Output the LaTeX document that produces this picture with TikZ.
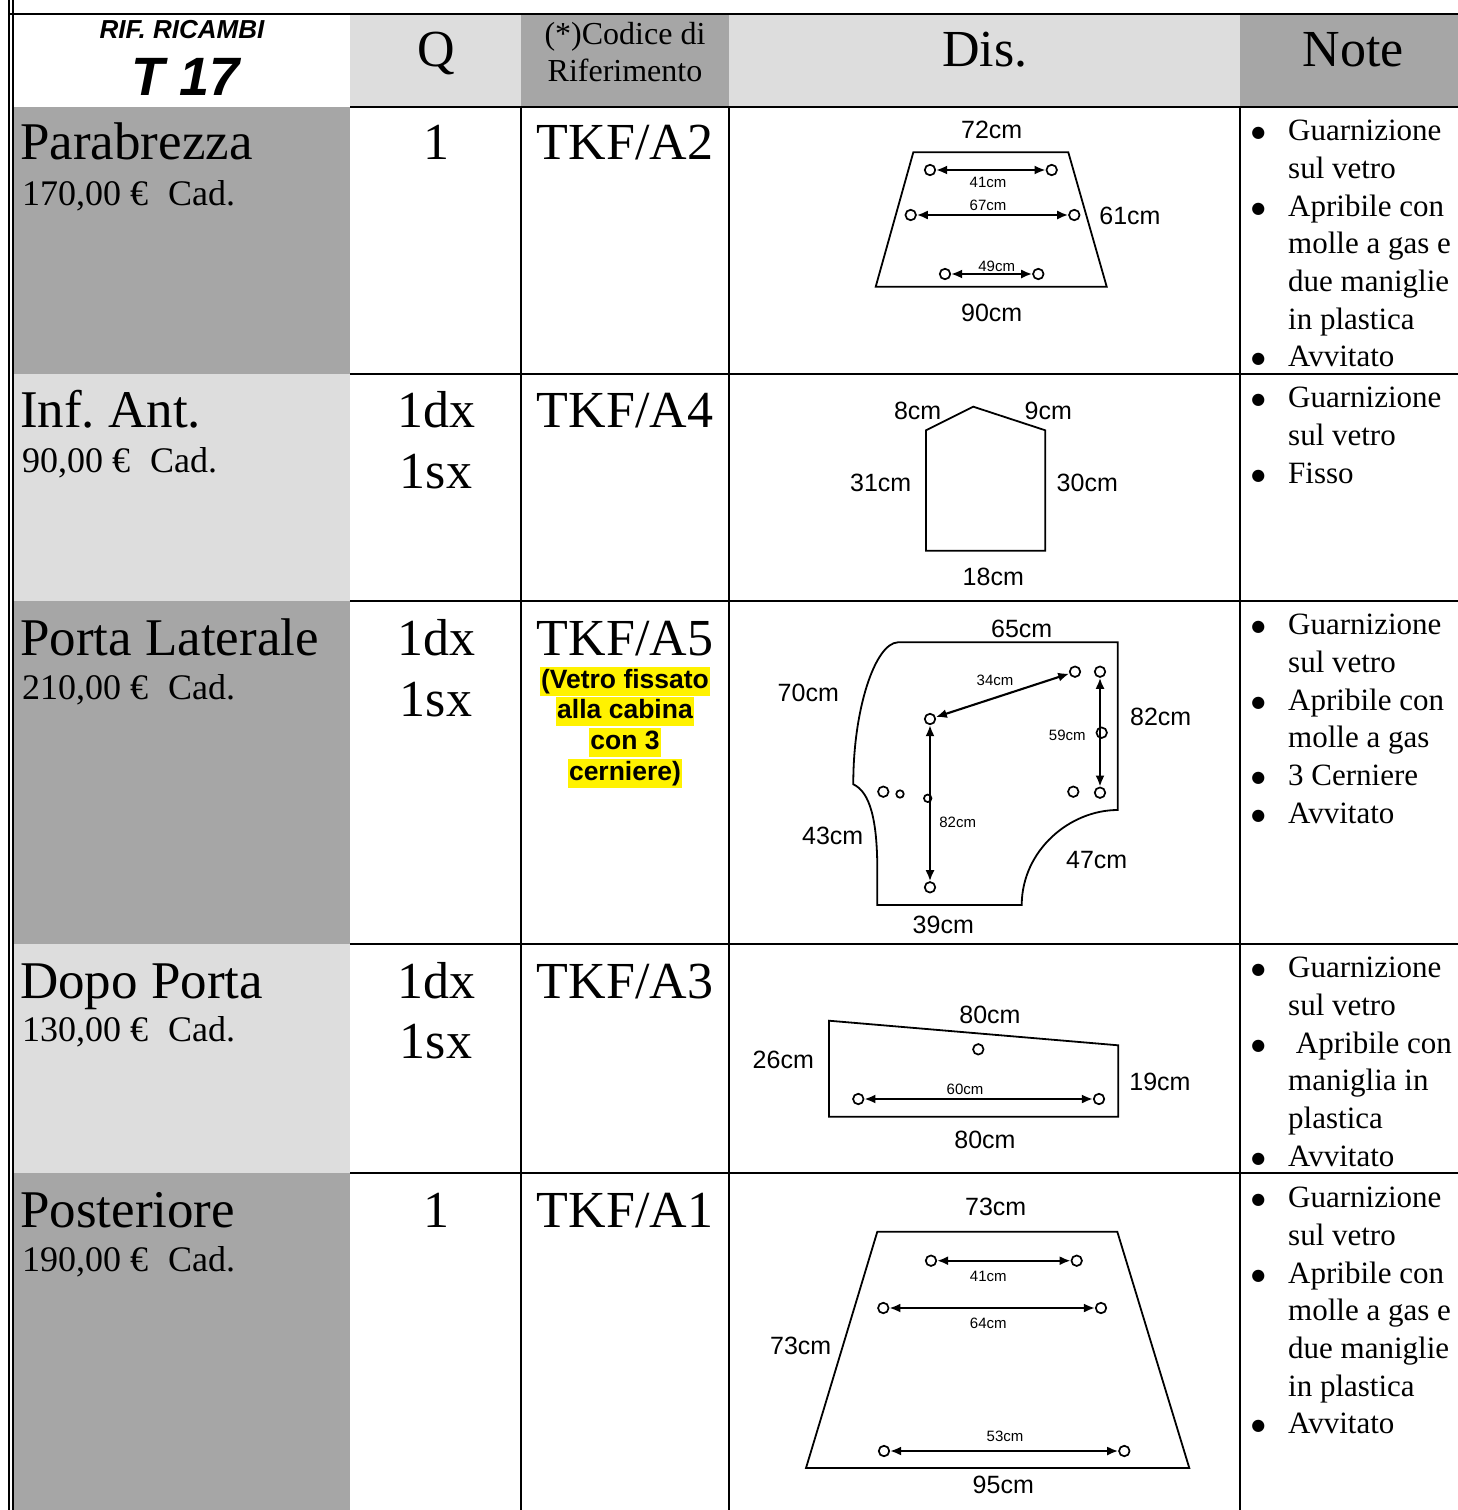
\documentclass[tikz,border=0pt]{standalone}
\usepackage{fontspec}
\setmainfont{Liberation Serif}
\setsansfont{Liberation Sans}
\newfontfamily\dingfont{DejaVu Sans}
\usetikzlibrary{arrows.meta}

\definecolor{darkcell}{RGB}{166,166,166}
\definecolor{lightcell}{RGB}{221,221,221}

\tikzstyle{tableline} = [line width=2.4pt]
\tikzstyle{glass} = [line width=1.8pt, line join=miter]
\tikzstyle{hole} = [circle, draw, line width=1.7pt, minimum size=10.5pt, inner sep=0pt]
\tikzstyle{smallhole} = [hole, minimum size=7.5pt]
\tikzstyle{dimarrow} = [line width=2.1pt, {Latex[length=11pt,width=9pt]}-{Latex[length=11pt,width=9pt]}]
\tikzstyle{dim} = [font=\sffamily\fontsize{25}{25}\selectfont, inner sep=0pt]
\tikzstyle{smalldim} = [font=\sffamily\fontsize{15}{15}\selectfont, inner sep=0pt]
\tikzstyle{part} = [font=\fontsize{53}{53}\selectfont, anchor=base west, inner sep=0pt]
\tikzstyle{price} = [font=\fontsize{36}{36}\selectfont, anchor=base west, inner sep=0pt]
\tikzstyle{big} = [font=\fontsize{52}{52}\selectfont, anchor=base, inner sep=0pt]
\tikzstyle{head} = [font=\fontsize{32}{32}\selectfont, anchor=base, inner sep=0pt]
\tikzstyle{note} = [font=\fontsize{31}{37.7}\selectfont, align=left, anchor=north west, inner sep=0pt]
\tikzstyle{hilite} = [fill=yellow, font=\sffamily\bfseries\fontsize{26.5}{26.5}\selectfont, inner xsep=1pt, inner ysep=1pt, text height=21pt, text depth=6pt]

\newcommand{\bul}{\makebox[0pt][r]{\smash{\raisebox{3pt}{\dingfont\fontsize{16}{16}\selectfont ●}}\hspace{23pt}}}
\newcommand{\cad}{\hspace{20pt}Cad.}

\begin{document}
\begin{tikzpicture}[x=1pt,y=-1pt]
\useasboundingbox (0,0) rectangle (1458,1510);

% cell shading
\fill[lightcell] (350,14) rectangle (521,107);
\fill[darkcell] (521,14) rectangle (729,107);
\fill[lightcell] (729,14) rectangle (1240,107);
\fill[darkcell] (1240,14) rectangle (1458,107);
\fill[darkcell] (14,107) rectangle (350,374);
\fill[lightcell] (14,374) rectangle (350,601);
\fill[darkcell] (14,601) rectangle (350,944);
\fill[lightcell] (14,944) rectangle (350,1173);
\fill[darkcell] (14,1173) rectangle (350,1510);

% rules
\draw[tableline] (9,0) -- (9,1510);
\draw[tableline] (13,0) -- (13,1510);
\draw[tableline] (8,14) -- (1458,14);
\foreach \y in {107,374,601,944,1173}
  \draw[tableline] (350,\y) -- (1458,\y);
\foreach \x in {521,729,1240}
  \draw[tableline] (\x,107) -- (\x,1510);

% header
\node (rif) [font=\sffamily\bfseries\itshape\fontsize{26}{26}\selectfont, inner sep=0pt] at (182,30) {RIF. RICAMBI};
\node (model) [font=\sffamily\bfseries\itshape\fontsize{54}{54}\selectfont, inner sep=0pt] at (186,77) {T 17};
\node (qhead) [big] at (436,66) {Q};
\node (codhead) [head] at (625,44) {(*)Codice di};
\node (codhead2) [head] at (625,81) {Riferimento};
\node (dishead) [big] at (985,66) {Dis.};
\node (notehead) [big] at (1353,66) {Note};

% parts
\node (parab) [part] at (20,159) {Parabrezza};
\node (parabprice) [price] at (22,205) {170,00 €\cad};
\node (infant) [part] at (20,427) {Inf.\ Ant.};
\node (infantprice) [price] at (22,472) {90,00 €\cad};
\node (porta) [part] at (20,655) {Porta Laterale};
\node (portaprice) [price] at (22,699) {210,00 €\cad};
\node (dopo) [part] at (20,998) {Dopo Porta};
\node (dopoprice) [price] at (22,1041) {130,00 €\cad};
\node (post) [part] at (20,1227) {Posteriore};
\node (postprice) [price] at (22,1271) {190,00 €\cad};

% quantities
\node (q1) [big] at (436,159) {1};
\node (q2a) [big] at (436,427) {1dx};
\node (q2b) [big] at (436,488) {1sx};
\node (q3a) [big] at (436,655) {1dx};
\node (q3b) [big] at (436,716) {1sx};
\node (q4a) [big] at (436,998) {1dx};
\node (q4b) [big] at (436,1058) {1sx};
\node (q5) [big] at (436,1227) {1};

% codes
\node (cod1) [big] at (625,159) {TKF/A2};
\node (cod2) [big] at (625,427) {TKF/A4};
\node (cod3) [big] at (625,655) {TKF/A5};
\node (cod4) [big] at (625,998) {TKF/A3};
\node (cod5) [big] at (625,1227) {TKF/A1};
\node (hl1) [hilite] at (625,681) {(Vetro fissato};
\node (hl2) [hilite] at (625,711) {alla cabina};
\node (hl3) [hilite] at (625,742) {con 3};
\node (hl4) [hilite] at (625,773) {cerniere)};

% notes
\node (note1) [note] at (1288,120) {\bul Guarnizione\\sul vetro\\\bul Apribile con\\molle a gas e\\due maniglie\\in plastica\\\bul Avvitato};
\node (note2) [note] at (1288,387) {\bul Guarnizione\\sul vetro\\\bul Fisso};
\node (note3) [note] at (1288,614) {\bul Guarnizione\\sul vetro\\\bul Apribile con\\molle a gas\\\bul 3 Cerniere\\\bul Avvitato};
\node (note4) [note] at (1288,957) {\bul Guarnizione\\sul vetro\\\bul ~Apribile con\\maniglia in\\plastica\\\bul Avvitato};
\node (note5) [note] at (1288,1187) {\bul Guarnizione\\sul vetro\\\bul Apribile con\\molle a gas e\\due maniglie\\in plastica\\\bul Avvitato};

% parabrezza
\draw[glass] (913.3,152.3) -- (1068.3,152.3) -- (1106.7,286.7) -- (875.7,286.7) -- cycle;
\node (a1) [hole] at (930,170) {};
\node (a2) [hole] at (1051.7,170) {};
\node (b1) [hole] at (910.7,215) {};
\node (b2) [hole] at (1074.3,215) {};
\node (c1) [hole] at (945,274) {};
\node (c2) [hole] at (1038.3,274) {};
\draw[dimarrow] (a1) -- (a2);
\draw[dimarrow] (b1) -- (b2);
\draw[dimarrow] (c1) -- (c2);
\node (la1) [smalldim] at (988,182) {41cm};
\node (lb1) [smalldim] at (988,205) {67cm};
\node (lc1) [smalldim] at (996.7,266) {49cm};
\node (top1) [dim] at (991.7,130) {72cm};
\node (side1) [dim] at (1130,216) {61cm};
\node (base1) [dim] at (991.7,313) {90cm};

% inf. ant.
\draw[glass] (926,550.7) -- (926,430.3) -- (973.3,406.7) -- (1045.3,430.3) -- (1045.3,550.7) -- cycle;
\node (lt2) [dim] at (917.7,410.7) {8cm};
\node (rt2) [dim] at (1048.3,410.7) {9cm};
\node (ls2) [dim] at (880.7,482.7) {31cm};
\node (rs2) [dim] at (1087.3,482.7) {30cm};
\node (base2) [dim] at (993.3,577.3) {18cm};

% porta laterale
\draw[glass] (898,642.3) -- (1117.7,642.3) -- (1117.7,810)
  .. controls (1070,810) and (1022,850) .. (1021.7,905) -- (877.3,905) -- (877.3,870)
  .. controls (877.3,820) and (870,792) .. (853.3,784.3)
  .. controls (853,710) and (875,643) .. (898,642.3);
\node (d1) [hole] at (930,719) {};
\node (d2) [hole] at (1075,671.7) {};
\node (d3) [hole] at (930,887.3) {};
\node (e1) [hole] at (1100,671.7) {};
\node (e2) [hole] at (1101.7,732.7) {};
\node (e3) [hole] at (1100,792.7) {};
\node (f1) [hole] at (1073.3,791.7) {};
\node (g1) [hole] at (883.3,791.7) {};
\node (g2) [smallhole] at (900,794) {};
\node (g3) [smallhole] at (927.7,798.3) {};
\draw[dimarrow] (d1) -- (d2);
\draw[dimarrow] (d1) -- (d3);
\draw[dimarrow] (e1) -- (e3);
\node (ld3) [smalldim] at (995,680) {34cm};
\node (lv3) [smalldim] at (957.7,822.7) {82cm};
\node (le3) [smalldim] at (1067.3,735) {59cm};
\node (top3) [dim] at (1021.7,629.3) {65cm};
\node (lu3) [dim] at (808.3,692.7) {70cm};
\node (rs3) [dim] at (1160.7,716.7) {82cm};
\node (ll3) [dim] at (832.7,836) {43cm};
\node (arc3) [dim] at (1096.7,860) {47cm};
\node (base3) [dim] at (943.3,925) {39cm};

% dopo porta
\draw[glass] (829,1020.7) -- (1118.3,1045.3) -- (1118.3,1116.7) -- (829,1116.7) -- cycle;
\node (k0) [hole] at (978.3,1049.3) {};
\node (k1) [hole] at (858.3,1099) {};
\node (k2) [hole] at (1099,1099) {};
\draw[dimarrow] (k1) -- (k2);
\node (lk4) [smalldim] at (965,1089.3) {60cm};
\node (top4) [dim] at (990,1015) {80cm};
\node (ls4) [dim] at (783.3,1060) {26cm};
\node (rs4) [dim] at (1160,1081.7) {19cm};
\node (base4) [dim] at (985,1140) {80cm};

% posteriore
\draw[glass] (877.3,1231.7) -- (1117.3,1231.7) -- (1189.3,1468) -- (806,1468) -- cycle;
\node (m1) [hole] at (931,1260.7) {};
\node (m2) [hole] at (1076.7,1260.7) {};
\node (n1) [hole] at (883.3,1308) {};
\node (n2) [hole] at (1101,1308) {};
\node (p1) [hole] at (884,1451) {};
\node (p2) [hole] at (1124.3,1451) {};
\draw[dimarrow] (m1) -- (m2);
\draw[dimarrow] (n1) -- (n2);
\draw[dimarrow] (p1) -- (p2);
\node (lm5) [smalldim] at (988.3,1276) {41cm};
\node (ln5) [smalldim] at (988.3,1323.3) {64cm};
\node (lp5) [smalldim] at (1005,1436.7) {53cm};
\node (top5) [dim] at (995.7,1207.3) {73cm};
\node (ls5) [dim] at (800.7,1346) {73cm};
\node (base5) [dim] at (1003.3,1485) {95cm};

\end{tikzpicture}
\end{document}
